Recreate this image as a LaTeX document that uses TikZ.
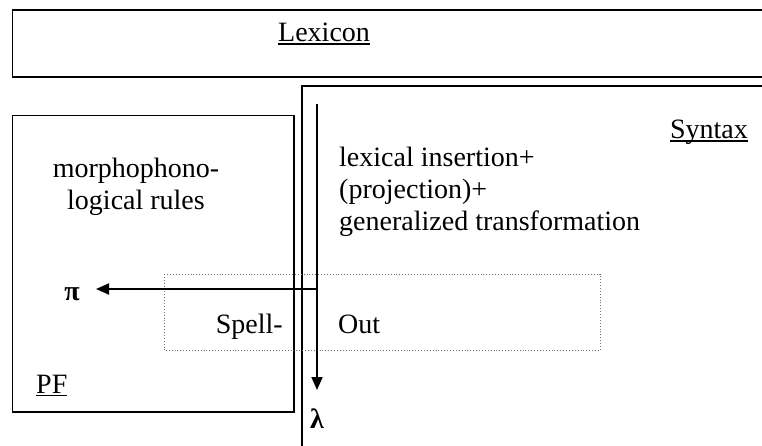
\documentclass[tikz,border=0pt]{standalone}
\usepackage{fontspec}
\setmainfont{Liberation Serif}
\usetikzlibrary{arrows.meta}
% underline drawn as a solid rule below the word
\newcommand\ulword[1]{\setbox0\hbox{#1}\leavevmode\rlap{\rule[-3pt]{\wd0}{1.5pt}}\box0}
\begin{document}
\begin{tikzpicture}[x=1pt,y=-1pt,
  frame/.style={draw=black,line width=1.8pt},
  lbl/.style={inner sep=0pt,anchor=base west,font=\fontsize{28}{32}\selectfont},
  block/.style={inner sep=0pt,align=center,font=\fontsize{28}{32}\selectfont},
  flow/.style={line width=1.8pt,-{Triangle[length=13pt,width=11pt]}},
  greek/.style={inner sep=0pt,font=\fontsize{28}{33}\selectfont\bfseries},
  spellbox/.style={draw=black!55,dotted,line width=0.9pt}]
\useasboundingbox (0,0) rectangle (762,446);
\clip (0,0) rectangle (762,446);
\fill[white] (0,0) rectangle (762,446);

% Lexicon band, running off the right edge
\draw[frame] (780,10) -- (12.5,10) -- (12.5,77) -- (780,77);
\node[lbl] (lexicon) at (278,42) {\ulword{Lexicon}};

% Syntax region, open to the right and below
\draw[frame,line width=1.6pt] (780,86) -- (302,86) -- (302,460);
\node[lbl,anchor=base east] (syntax) at (748,139) {\ulword{Syntax}};
\node[lbl] (ops1) at (339,167) {lexical insertion+};
\node[lbl] (ops2) at (339,199) {(projection)+};
\node[lbl] (ops3) at (339,231) {generalized transformation};

% PF box
\draw[frame] (12.5,115.5) rectangle (294,412);
\node[block,anchor=base] (morph) at (136,210) {morphophono-\\logical rules};
\node[lbl] (pf) at (36,393) {\ulword{PF}};

% Spell-Out window
\draw[spellbox] (164,274) rectangle (600,350.5);
\node[lbl,anchor=base east] (spell) at (283,333) {Spell-};
\node[lbl] (out) at (338,333) {Out};

% derivation arrows
\coordinate (start) at (317,104);
\coordinate (branch) at (317,289);
\coordinate (lfend) at (317,390);
\coordinate (pfend) at (96,289);
\draw[flow] (start) -- (lfend);
\draw[flow] (branch) -- (pfend);

\node[greek] (pi) at (72,294) {π};
\node[greek] (lambda) at (317,419) {λ};
\end{tikzpicture}
\end{document}
